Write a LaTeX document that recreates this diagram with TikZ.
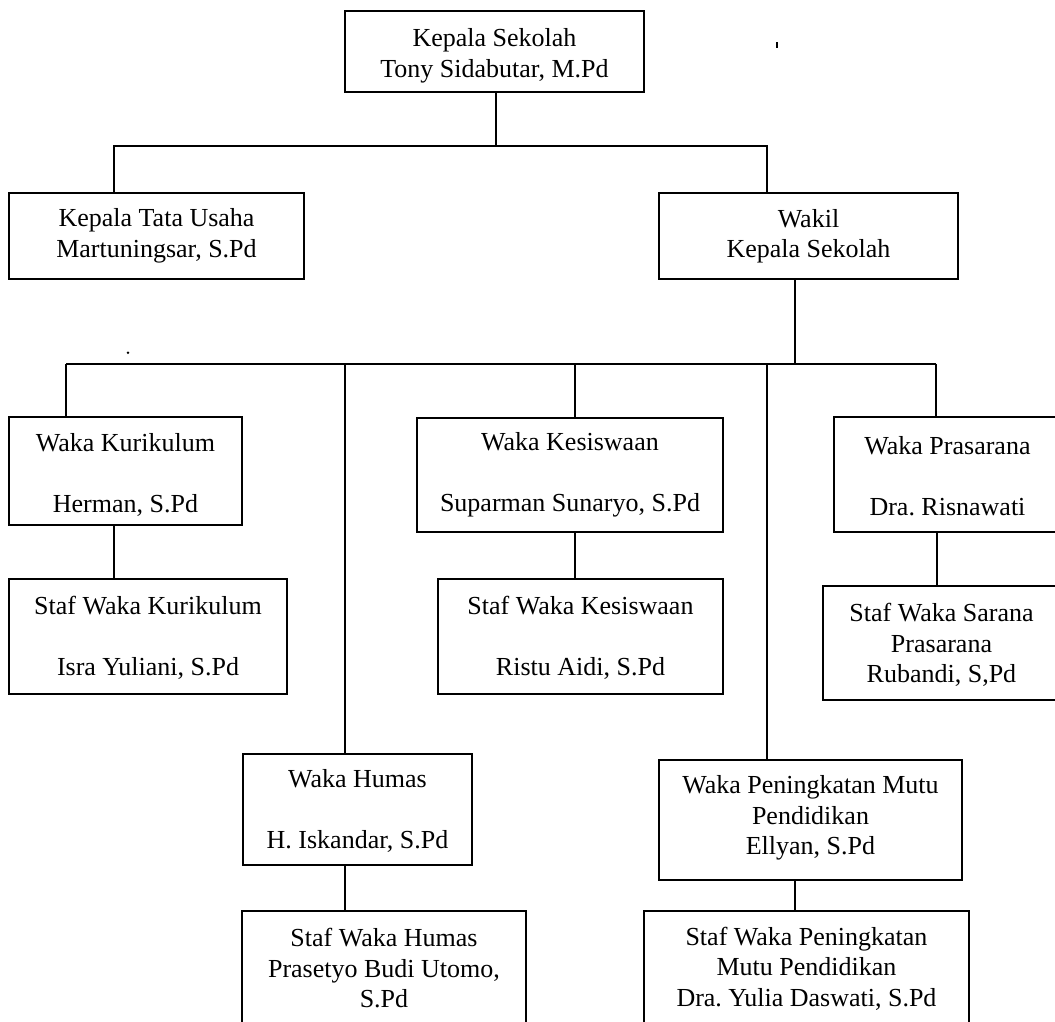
\documentclass[tikz,border=0pt]{standalone}
\usepackage{fontspec}
\setmainfont{Liberation Serif}
\frenchspacing
\begin{document}
\begin{tikzpicture}[x=1pt,y=-1pt,
  box/.style={draw, line width=1.8pt, inner sep=0pt, outer sep=0pt},
  txt/.style={align=center, inner sep=0pt, font=\fontsize{26}{30.5}\selectfont},
  link/.style={line width=1.6pt}]
\useasboundingbox (0,0) rectangle (1055,1021);
\clip (0,0) rectangle (1055,1021);
% boxes
\node[box, minimum width=299pt, minimum height=81pt] (A) at (494.5,51.5) {};
\node[box, minimum width=295pt, minimum height=86pt] (B) at (156.5,236) {};
\node[box, minimum width=299pt, minimum height=86pt] (C) at (808.5,236) {};
\node[box, minimum width=233pt, minimum height=108pt] (D) at (125.5,471) {};
\node[box, minimum width=306pt, minimum height=114pt] (E) at (570,475) {};
\node[box, minimum width=227pt, minimum height=115pt] (F) at (947.5,474.5) {};
\node[box, minimum width=278pt, minimum height=115pt] (G) at (148,636.5) {};
\node[box, minimum width=285pt, minimum height=115pt] (H) at (580.5,636.5) {};
\node[box, minimum width=237pt, minimum height=114pt] (I) at (941.5,643) {};
\node[box, minimum width=229pt, minimum height=111pt] (J) at (357.5,809.5) {};
\node[box, minimum width=303pt, minimum height=120pt] (K) at (810.5,820) {};
\node[box, minimum width=284pt, minimum height=129pt] (L) at (384,975.5) {};
\node[box, minimum width=325pt, minimum height=129pt] (M) at (806.5,975.5) {};
% texts
\node[txt] (tA) at (494.5,56) {Kepala Sekolah\\Tony Sidabutar, M.Pd};
\node[txt] (tB) at (156.5,236) {Kepala Tata Usaha\\Martuningsar, S.Pd};
\node[txt] (tC) at (808.5,236) {Wakil\\Kepala Sekolah};
\node[txt] (tD) at (125.5,475) {Waka Kurikulum\\[30.5pt]Herman, S.Pd};
\node[txt] (tE) at (570,475) {Waka Kesiswaan\\[30.5pt]Suparman Sunaryo, S.Pd};
\node[txt] (tF) at (947.5,476) {Waka Prasarana\\[30.5pt]Dra. Risnawati};
\node[txt] (tG) at (148,638) {Staf Waka Kurikulum\\[30.5pt]Isra Yuliani, S.Pd};
\node[txt] (tH) at (580.5,638) {Staf Waka Kesiswaan\\[30.5pt]Ristu Aidi, S.Pd};
\node[txt] (tI) at (941.5,645) {Staf Waka Sarana\\Prasarana\\Rubandi, S,Pd};
\node[txt] (tJ) at (357.5,811) {Waka Humas\\[30.5pt]H. Iskandar, S.Pd};
\node[txt] (tK) at (810.5,818) {Waka Peningkatan Mutu\\Pendidikan\\Ellyan, S.Pd};
\node[txt] (tL) at (384,968.5) {Staf Waka Humas\\Prasetyo Budi Utomo,\\S.Pd};
\node[txt] (tM) at (806.5,968.5) {Staf Waka Peningkatan\\Mutu Pendidikan\\Dra. Yulia Daswati, S.Pd};
% bus coordinates
\coordinate (a1) at (496,146);
\coordinate (b1) at (114,146);
\coordinate (b2) at (767,146);
\coordinate (c1) at (795,363.7);
\coordinate (d1) at (66,363.7);
\coordinate (j1) at (345,363.7);
\coordinate (e1) at (575,363.7);
\coordinate (k1) at (767,363.7);
\coordinate (f1) at (936,363.7);
\coordinate (g1) at (114,0);
\coordinate (i1) at (937,0);
\coordinate (m1) at (795,0);
% connectors
\draw[link] (a1 |- A.south) -- (a1);
\draw[link] (b1 |- B.north) -- (b1) -- (b2) -- (b2 |- C.north);
\draw[link] (c1 |- C.south) -- (c1);
\draw[link] (d1) -- (f1);
\draw[link] (d1) -- (d1 |- D.north);
\draw[link] (j1) -- (j1 |- J.north);
\draw[link] (e1) -- (e1 |- E.north);
\draw[link] (k1) -- (k1 |- K.north);
\draw[link] (f1) -- (f1 |- F.north);
\draw[link] (g1 |- D.south) -- (g1 |- G.north);
\draw[link] (e1 |- E.south) -- (e1 |- H.north);
\draw[link] (i1 |- F.south) -- (i1 |- I.north);
\draw[link] (j1 |- J.south) -- (j1 |- L.north);
\draw[link] (m1 |- K.south) -- (m1 |- M.north);
% stray marks
\draw[line width=1.6pt] (777,42) -- (777,48);
\fill (128,352.7) circle (1.3pt);
\end{tikzpicture}
\end{document}
